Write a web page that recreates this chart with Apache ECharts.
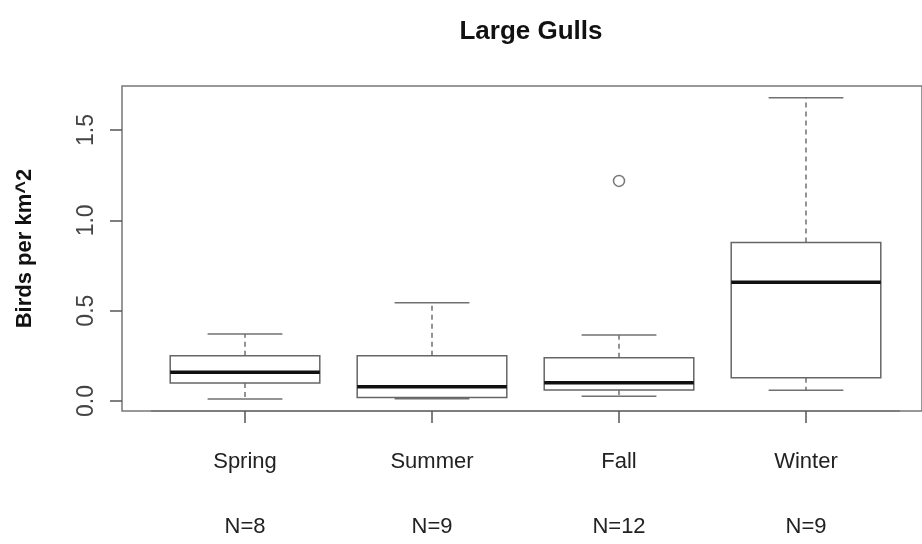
<!DOCTYPE html>
<html>
<head>
<meta charset="utf-8">
<script src="https://cdn.jsdelivr.net/npm/echarts@6/dist/echarts.min.js"></script>
<style>
  html, body { margin: 0; padding: 0; background: #fff; }
  #chart { width: 922px; height: 544px; }
</style>
</head>
<body>
<div id="chart"></div>
<script>
// seasons and box statistics (Birds per km^2)
const seasons = ['Spring', 'Summer', 'Fall', 'Winter']
const nCounts = [8, 9, 12, 9]
const whiskerLow = [0.011, 0.012, 0.026, 0.059]
const boxQ1 = [0.100, 0.020, 0.061, 0.129]
const medians = [0.159, 0.079, 0.101, 0.657]
const boxQ3 = [0.251, 0.251, 0.240, 0.878]
const whiskerHigh = [0.371, 0.544, 0.365, 1.679]
const outlierSeason = ['Fall']
const outlierValue = [1.218]
const yTicks = [0, 0.5, 1.0, 1.5]

const font = 'Liberation Sans, Arial, Helvetica, sans-serif'
const boxData = seasons.map((s, i) => [i, whiskerLow[i], boxQ1[i], medians[i], boxQ3[i], whiskerHigh[i]])
const outliers = outlierSeason.map((s, i) => [s, outlierValue[i]])

// R style box: dashed whiskers, solid caps, thick median
function renderBox(params, api) {
  const x = api.value(0)
  const low = api.coord([x, api.value(1)])
  const q1 = api.coord([x, api.value(2)])
  const med = api.coord([x, api.value(3)])
  const q3 = api.coord([x, api.value(4)])
  const high = api.coord([x, api.value(5)])
  const band = api.size([1, 0])[0]
  const hw = band * 0.4
  const cw = band * 0.2
  const cx = med[0]
  const dashed = { stroke: '#707070', lineWidth: 1.5, lineDash: [5, 4] }
  const solid = { stroke: '#707070', lineWidth: 1.5 }
  return {
    type: 'group',
    children: [
      { type: 'line', shape: { x1: cx, y1: q3[1], x2: cx, y2: high[1] }, style: dashed },
      { type: 'line', shape: { x1: cx, y1: q1[1], x2: cx, y2: low[1] }, style: dashed },
      { type: 'line', shape: { x1: cx - cw, y1: high[1], x2: cx + cw, y2: high[1] }, style: solid },
      { type: 'line', shape: { x1: cx - cw, y1: low[1], x2: cx + cw, y2: low[1] }, style: solid },
      { type: 'rect', shape: { x: cx - hw, y: q3[1], width: hw * 2, height: q1[1] - q3[1] },
        style: { fill: '#fff', stroke: '#666', lineWidth: 1.5 } },
      { type: 'line', shape: { x1: cx - hw, y1: med[1], x2: cx + hw, y2: med[1] },
        style: { stroke: '#111', lineWidth: 3.5 } }
    ]
  }
}

const myChart = echarts.init(document.getElementById('chart'))

const options = {
  animation: false,
  textStyle: { fontFamily: font },
  title: {
    text: 'Large Gulls',
    left: 526,
    top: 14,
    textAlign: 'center',
    textStyle: { fontFamily: font, fontSize: 26, fontWeight: 'bold', color: '#111' }
  },
  grid: [
    // frame (R's box extends past the right edge)
    { left: 122, right: -8, top: 86, bottom: 133, show: true, borderColor: '#777', borderWidth: 1.5, backgroundColor: 'transparent' },
    // data area
    { left: 151.5, width: 748, top: 86, bottom: 133 }
  ],
  xAxis: [
    { gridIndex: 0, type: 'value', show: false },
    {
      gridIndex: 1,
      type: 'category',
      data: seasons,
      axisLine: { show: true, onZero: false, lineStyle: { color: '#777', width: 1.5 } },
      axisTick: { show: true, alignWithLabel: true, length: 12, lineStyle: { color: '#555', width: 1.5 } },
      axisLabel: { margin: 40, fontSize: 22, color: '#222', fontFamily: font }
    },
    {
      gridIndex: 1,
      type: 'category',
      position: 'bottom',
      data: nCounts.map(n => 'N=' + n),
      axisLine: { show: false, onZero: false },
      axisTick: { show: false },
      axisLabel: { margin: 105, fontSize: 22, color: '#222', fontFamily: font }
    }
  ],
  yAxis: [
    { gridIndex: 0, type: 'value', show: false },
    {
      gridIndex: 1,
      type: 'value',
      min: -0.0553,
      max: 1.7435,
      offset: 29.5,
      name: 'Birds per km^2',
      nameLocation: 'middle',
      nameRotate: 90,
      nameGap: 86,
      nameTextStyle: { fontFamily: font, fontSize: 22, fontWeight: 'bold', color: '#111' },
      axisLine: { show: false },
      splitLine: { show: false },
      axisTick: { show: true, length: 12, customValues: yTicks, lineStyle: { color: '#555', width: 1.5 } },
      axisLabel: {
        customValues: yTicks,
        rotate: 90,
        margin: 24,
        fontSize: 23,
        color: '#444',
        fontFamily: font,
        formatter: v => v.toFixed(1)
      }
    }
  ],
  series: [
    {
      type: 'custom',
      xAxisIndex: 1,
      yAxisIndex: 1,
      renderItem: renderBox,
      encode: { x: 0, y: [1, 2, 3, 4, 5] },
      data: boxData
    },
    {
      type: 'scatter',
      xAxisIndex: 1,
      yAxisIndex: 1,
      symbol: 'circle',
      symbolSize: 11,
      itemStyle: { color: '#fff', borderColor: '#555', borderWidth: 1.5 },
      data: outliers
    }
  ]
}
myChart.setOption(options)
</script>
</body>
</html>
